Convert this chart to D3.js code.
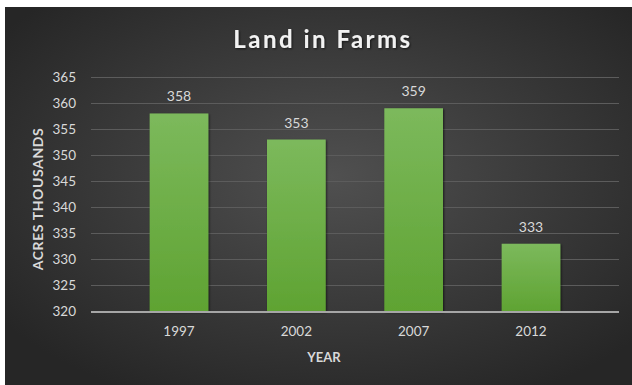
<!DOCTYPE html>
<html lang="en">
<head>
    <meta charset="UTF-8">
    <title>Land in Farms</title>
    <script src="https://d3js.org/d3.v7.min.js"></script>
    <style>
        html, body { margin: 0; padding: 0; background: #fff; }
        svg { display: block; }
        text { font-family: Lato, "Open Sans", sans-serif; }
    </style>
</head>
<body>
<div id="chart"></div>
<script>
// chart data
const years = ["1997", "2002", "2007", "2012"];
const acres = [358, 353, 359, 333];
const yTicks = [320, 325, 330, 335, 340, 345, 350, 355, 360, 365];

const width = 632;
const height = 385;
const margin = { top: 77, right: 13, bottom: 73, left: 91 };

const svg = d3.select("#chart")
    .append("svg")
    .attr("width", width)
    .attr("height", height);

const defs = svg.append("defs");

// dark radial background
const bg = defs.append("radialGradient")
    .attr("id", "bg")
    .attr("cx", "52%").attr("cy", "45%").attr("r", "65%");
bg.append("stop").attr("offset", "0%").attr("stop-color", "#505050");
bg.append("stop").attr("offset", "100%").attr("stop-color", "#262626");

// green bar gradient
const barGrad = defs.append("linearGradient")
    .attr("id", "barGrad")
    .attr("x1", 0).attr("y1", 0).attr("x2", 0).attr("y2", 1);
barGrad.append("stop").attr("offset", "0%").attr("stop-color", "#7cb95c");
barGrad.append("stop").attr("offset", "100%").attr("stop-color", "#5fa332");

const shadow = defs.append("filter").attr("id", "shadow")
    .attr("x", "-10%").attr("y", "-10%").attr("width", "130%").attr("height", "130%");
shadow.append("feDropShadow")
    .attr("dx", 1).attr("dy", 1).attr("stdDeviation", 1.2)
    .attr("flood-color", "#000").attr("flood-opacity", 0.6);

svg.append("rect")
    .attr("x", 5).attr("y", 7)
    .attr("width", width - 5).attr("height", height - 7)
    .attr("fill", "url(#bg)");

const x = d3.scaleBand()
    .domain(years)
    .range([margin.left, width - margin.right])
    .padding(0.5);

const y = d3.scaleLinear()
    .domain([320, 365])
    .range([height - margin.bottom - 0.5, margin.top]);

// gridlines
svg.append("g")
    .selectAll("line")
    .data(yTicks.filter(d => d !== 320))
    .join("line")
    .attr("x1", margin.left)
    .attr("x2", width - margin.right)
    .attr("y1", d => Math.round(y(d)) + 0.5)
    .attr("y2", d => Math.round(y(d)) + 0.5)
    .attr("stroke", "#5c5c5c")
    .attr("stroke-width", 1);

// y tick labels
const yAxis = d3.axisLeft(y).tickValues(yTicks).tickSize(0).tickPadding(15);
const gy = svg.append("g")
    .attr("transform", `translate(${margin.left},0)`)
    .call(yAxis);
gy.select(".domain").remove();
gy.selectAll("text")
    .attr("fill", "#d9d9d9")
    .style("font-size", "13.5px");

// bars
svg.append("g")
    .selectAll("rect")
    .data(years)
    .join("rect")
    .attr("x", d => x(d))
    .attr("width", x.bandwidth())
    .attr("y", (d, i) => y(acres[i]))
    .attr("height", (d, i) => y(320) - y(acres[i]))
    .attr("fill", "url(#barGrad)")
    .attr("filter", "url(#shadow)");

// data labels
svg.append("g")
    .selectAll("text")
    .data(years)
    .join("text")
    .attr("x", d => x(d) + x.bandwidth() / 2)
    .attr("y", (d, i) => y(acres[i]) - 12)
    .attr("text-anchor", "middle")
    .attr("fill", "#d9d9d9")
    .style("font-size", "14px")
    .text((d, i) => acres[i]);

// x axis baseline + labels
const xAxis = d3.axisBottom(x).tickSize(0).tickPadding(14);
const gx = svg.append("g")
    .attr("transform", `translate(0,${Math.round(y(320))})`)
    .call(xAxis);
gx.select(".domain")
    .attr("d", `M${margin.left},0H${width - margin.right}`)
    .attr("stroke", "#a6a6a6")
    .attr("stroke-width", 2);
gx.selectAll("text")
    .attr("fill", "#d9d9d9")
    .style("font-size", "13.5px");

// title
svg.append("text")
    .attr("x", 323)
    .attr("y", 48)
    .attr("text-anchor", "middle")
    .attr("fill", "#f2f2f2")
    .attr("filter", "url(#shadow)")
    .style("font-size", "24px")
    .style("font-weight", "bold")
    .style("letter-spacing", "2.5px")
    .text("Land in Farms");

// axis titles
svg.append("text")
    .attr("x", 324)
    .attr("y", 362)
    .attr("text-anchor", "middle")
    .attr("fill", "#d9d9d9")
    .style("font-size", "13px")
    .style("font-weight", "bold")
    .text("YEAR");

svg.append("text")
    .attr("transform", "translate(43,199) rotate(-90)")
    .attr("text-anchor", "middle")
    .attr("fill", "#d9d9d9")
    .style("font-size", "14px")
    .style("font-weight", "bold")
    .style("letter-spacing", "0.6px")
    .text("ACRES THOUSANDS");
</script>
</body>
</html>
